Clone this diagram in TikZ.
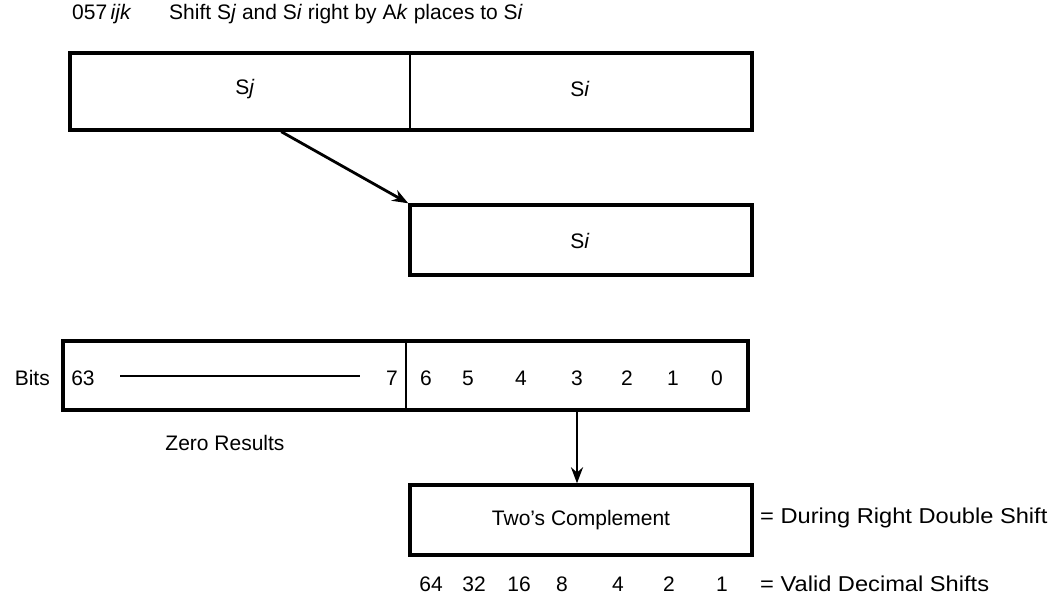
\documentclass[tikz,border=0pt]{standalone}
\usepackage{fontspec}
\setmainfont{Liberation Sans}
\newfontfamily\widesans[FakeStretch=1.1]{Liberation Sans}
\usetikzlibrary{arrows.meta,calc}
\begin{document}
\begin{tikzpicture}[x=1pt,y=-1pt,
  box/.style={draw,line width=3.4pt,inner sep=0pt},
  lbl/.style={font=\fontsize{21}{23}\selectfont,inner sep=0pt},
  side/.style={font=\widesans\fontsize{21.5}{23}\selectfont,inner sep=0pt,anchor=west},
  ttl/.style={font=\fontsize{21}{23}\selectfont,inner sep=0pt,anchor=base west},
  arr/.style={line width=2.8pt,-{Stealth[length=16pt,width=12pt]}},
  div/.style={line width=2pt}]
\useasboundingbox (0,0) rectangle (1063,598);
% title
\node[ttl] (code) at (72,19) {057\,\textit{ijk}};
\node[ttl] (title) at (169,19) {Shift S\textit{j} and S\textit{i} right by A\textit{k} places to S\textit{i}};
% top box
\node[box,minimum width=682pt,minimum height=77pt] (top) at (411,91.5) {};
\draw[div] (410,53) -- (410,130);
\node[lbl] (sj) at (245,89) {S\textit{j}};
\node[lbl] (si1) at (580,89) {S\textit{i}};
% result box
\node[box,minimum width=342pt,minimum height=70pt] (res) at (581,240) {};
\node[lbl] (si2) at (580,241) {S\textit{i}};
\draw[arr] ([xshift=213pt]top.south west) -- (res.north west);
% bits box
\node[box,minimum width=685pt,minimum height=69pt] (bits) at (405.5,375.5) {};
\draw[div] (406,341) -- (406,410);
\node[lbl,anchor=east] (bitslbl) at (50,378) {Bits};
\node[lbl] (b63) at (83,378) {63};
\node[lbl] (b7) at (392,378) {7};
\draw[line width=2.6pt] (120,376) coordinate (ls) -- (360,376) coordinate (le);
\foreach \n/\x in {6/426,5/468,4/521,3/577,2/627,1/673,0/717}{
  \node[lbl] (b\n) at (\x,378) {\n};
}
\node[lbl] (zero) at (225,443) {Zero Results};
% two's complement box
\node[box,minimum width=342pt,minimum height=70pt] (tc) at (581,520) {};
\node[lbl] (tctext) at (581,520) {Two’s Complement};
\draw[arr] (bits.south -| b3) -- (tc.north -| b3);
\node[side] (during) at (760,518) {= During Right Double Shift};
\foreach \n/\x in {64/431,32/474,16/519,8/562,4/618,2/669,1/722}{
  \node[lbl] (v\n) at (\x,584) {\n};
}
\node[side] (valid) at (760,584) {= Valid Decimal Shifts};
\end{tikzpicture}
\end{document}
